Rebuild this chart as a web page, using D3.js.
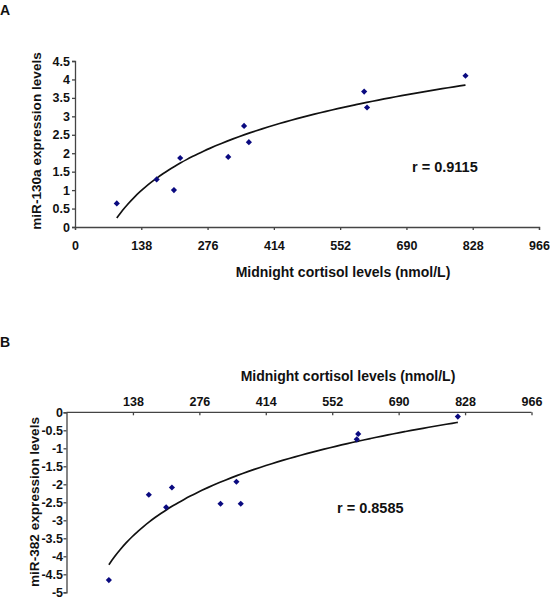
<!DOCTYPE html>
<html>
<head>
<meta charset="utf-8">
<script src="https://cdn.jsdelivr.net/npm/d3@7"></script>
<style>
  body { margin: 0; background: #fff; }
  svg { display: block; }
  text { font-family: "Liberation Sans", Arial, sans-serif; font-weight: bold; fill: #111; }
</style>
</head>
<body>
<svg id="chart" width="550" height="600"></svg>
<script>
// ---- Data ----
const xTicks = [0, 138, 276, 414, 552, 690, 828, 966];
const xTicksB = [138, 276, 414, 552, 690, 828, 966];

const cortisolA = [87, 170, 206, 219, 319, 352, 362, 602, 608, 813];
const mir130a   = [0.64, 1.29, 1.0, 1.87, 1.90, 2.74, 2.30, 3.67, 3.24, 4.10];
const yTicksA = [0, 0.5, 1, 1.5, 2, 2.5, 3, 3.5, 4, 4.5];
const trendA = { intercept: -6.966, slope: 1.614 }; // logarithmic trendline
const labelA = "r = 0.9115";

const cortisolB = [88, 171, 207, 219, 320, 353, 362, 606, 603, 813];
const mir382    = [-4.66, -2.29, -2.64, -2.09, -2.54, -1.93, -2.54, -0.6, -0.75, -0.12];
const yTicksB = [0, -0.5, -1, -1.5, -2, -2.5, -3, -3.5, -4, -4.5, -5];
const trendB = { intercept: -12.206, slope: 1.78 };
const labelB = "r = 0.8585";

const xTitle = "Midnight cortisol levels (nmol/L)";
const yTitleA = "miR-130a expression levels";
const yTitleB = "miR-382 expression levels";

// ---- Drawing ----
const svg = d3.select("#chart");
const axisColor = "#444";
const markColor = "#0a0a80";

function trendPoints(xs, t) {
  const lo = d3.min(xs), hi = d3.max(xs);
  const n = 60;
  return d3.range(n + 1).map(i => {
    const x = lo + (hi - lo) * i / n;
    return [x, t.intercept + t.slope * Math.log(x)];
  });
}

function styleAxis(g) {
  g.select(".domain").attr("stroke", axisColor).attr("stroke-width", 1.3);
  g.selectAll(".tick line").attr("stroke", axisColor).attr("stroke-width", 1.3);
  g.selectAll(".tick text").style("font-size", "12.5px").style("font-weight", "bold")
    .attr("fill", "#111").style("font-family", "'Liberation Sans', Arial, sans-serif");
}

const diamond = d3.symbol().type(d3.symbolSquare).size(19);

// Panel A
{
  const x = d3.scaleLinear().domain([0, 966]).range([75, 539]);
  const y = d3.scaleLinear().domain([0, 4.5]).range([227, 61]);
  const g = svg.append("g");

  g.append("text").attr("x", 0).attr("y", 14.5).style("font-size", "14px").text("A");

  const xa = g.append("g").attr("transform", `translate(0,${y(0)})`)
    .call(d3.axisBottom(x).tickValues(xTicks).tickSize(3).tickPadding(11).tickFormat(d3.format("d")));
  styleAxis(xa);
  const ya = g.append("g").attr("transform", `translate(${x(0)},0)`)
    .call(d3.axisLeft(y).tickValues(yTicksA).tickSize(3).tickPadding(2).tickFormat(d => String(d)));
  styleAxis(ya);

  const line = d3.line().x(d => x(d[0])).y(d => y(d[1])).curve(d3.curveMonotoneX);
  g.append("path").datum(trendPoints(cortisolA, trendA)).attr("d", line)
    .attr("fill", "none").attr("stroke", "#111").attr("stroke-width", 1.7);

  g.selectAll(".pt").data(cortisolA).enter().append("path")
    .attr("d", diamond).attr("fill", markColor)
    .attr("transform", (d, i) => `translate(${x(d)},${y(mir130a[i])}) rotate(45)`);

  g.append("text").attr("x", 343).attr("y", 277).attr("text-anchor", "middle")
    .style("font-size", "14px").text(xTitle);
  g.append("text").attr("transform", `translate(40.5,141) rotate(-90)`).attr("text-anchor", "middle")
    .style("font-size", "13.6px").text(yTitleA);
  g.append("text").attr("x", 412).attr("y", 171.5).style("font-size", "14.5px").text(labelA);
}

// Panel B
{
  const x = d3.scaleLinear().domain([0, 966]).range([66.5, 531.5]);
  const y = d3.scaleLinear().domain([0, -5]).range([412.3, 592.3]);
  const g = svg.append("g");

  g.append("text").attr("x", 0).attr("y", 347).style("font-size", "14px").text("B");

  const xa = g.append("g").attr("transform", `translate(0,${y(0)})`)
    .call(d3.axisTop(x).tickValues(xTicksB).tickSize(-3).tickPadding(6.5).tickFormat(d3.format("d")));
  styleAxis(xa);
  xa.select(".domain").attr("d", `M${x(0)},0H${x(966)}`);
  const ya = g.append("g").attr("transform", `translate(${x(0)},0)`)
    .call(d3.axisLeft(y).tickValues(yTicksB).tickSize(3).tickPadding(0.5).tickFormat(d => String(d)));
  styleAxis(ya);

  const line = d3.line().x(d => x(d[0])).y(d => y(d[1])).curve(d3.curveMonotoneX);
  g.append("path").datum(trendPoints(cortisolB, trendB)).attr("d", line)
    .attr("fill", "none").attr("stroke", "#111").attr("stroke-width", 1.7);

  g.selectAll(".pt").data(cortisolB).enter().append("path")
    .attr("d", diamond).attr("fill", markColor)
    .attr("transform", (d, i) => `translate(${x(d)},${y(mir382[i])}) rotate(45)`);

  g.append("text").attr("x", 348).attr("y", 381).attr("text-anchor", "middle")
    .style("font-size", "14px").text(xTitle);
  g.append("text").attr("transform", `translate(38.5,502) rotate(-90)`).attr("text-anchor", "middle")
    .style("font-size", "13.6px").text(yTitleB);
  g.append("text").attr("x", 337).attr("y", 513).style("font-size", "14.5px").text(labelB);
}
</script>
</body>
</html>
